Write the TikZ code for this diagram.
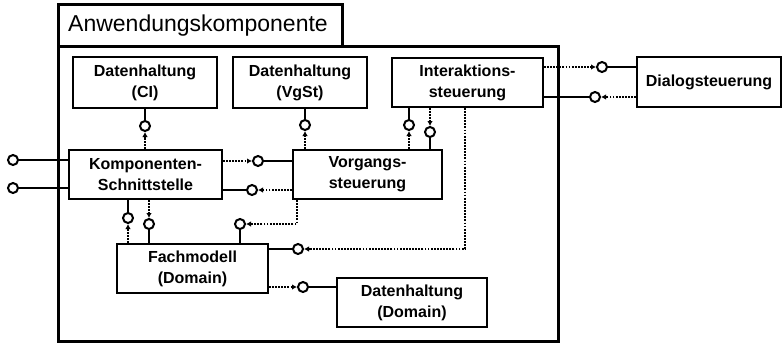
\documentclass[tikz,border=0pt]{standalone}
\usepackage{fontspec}
\setmainfont{Liberation Sans}
\usetikzlibrary{arrows.meta}

\tikzset{
  comp/.style={draw, line width=1.7pt, fill=white, align=center, inner sep=0pt,
    font=\bfseries\fontsize{16}{21}\selectfont},
  lolli/.style={circle, draw, line width=2pt, fill=white, inner sep=0pt, minimum size=10pt},
  prov/.style={line width=1.5pt},
  dep/.style={line width=1.8pt, dash pattern=on 1.8pt off 1.3pt,
    -{Latex[length=5pt,width=5.5pt]}},
}

\begin{document}
\begin{tikzpicture}[x=1pt, y=-1pt]
\useasboundingbox (0,0) rectangle (783,343);

% component frame with its title tab
\draw[line width=3pt] (58,4) rectangle (342,46);
\node[anchor=west, inner sep=0pt, font=\fontsize{23}{27}\selectfont] (title) at (68,26) {Anwendungskomponente};
\draw[line width=3pt] (58,46) rectangle (558,341);

% components
\node[comp, minimum width=144pt, minimum height=51pt] (dhci)  at (145,82.5) {Datenhaltung\\(CI)};
\node[comp, minimum width=134pt, minimum height=51pt] (dhvg)  at (300,82.5) {Datenhaltung\\(VgSt)};
\node[comp, minimum width=151pt, minimum height=49pt] (inter) at (467.5,82.5) {Interaktions-\\steuerung};
\node[comp, minimum width=144pt, minimum height=50pt] (dialog) at (709,82) {Dialogsteuerung};
\node[comp, minimum width=153pt, minimum height=49pt] (komp)  at (145.5,174.5) {Komponenten-\\Schnittstelle};
\node[comp, minimum width=149pt, minimum height=49pt] (vorg)  at (367.5,174.5) {Vorgangs-\\steuerung};
\node[comp, minimum width=151pt, minimum height=49pt] (fach)  at (192.5,268.5) {Fachmodell\\(Domain)};
\node[comp, minimum width=150pt, minimum height=49pt] (dhdom) at (412,302.5) {Datenhaltung\\(Domain)};

% interfaces (lollipops)
\node[lolli] (ext1) at (13,160) {};
\node[lolli] (ext2) at (13,188) {};
\node[lolli] (ici)  at (145,126) {};
\node[lolli] (ivg)  at (305,125) {};
\node[lolli] (ivo1) at (258,161) {};
\node[lolli] (iko1) at (252,190) {};
\node[lolli] (iin)  at (409,125) {};
\node[lolli] (ivo2) at (430,132) {};
\node[lolli] (ifa1) at (298,249) {};
\node[lolli] (ifa2) at (240,224) {};
\node[lolli] (iko2) at (128,218) {};
\node[lolli] (ifa3) at (149,224) {};
\node[lolli] (idom) at (303,287) {};
\node[lolli] (idia) at (602,67) {};
\node[lolli] (iin2) at (595,97) {};

% external interfaces of the component
\draw[prov] (ext1.east) -- (ext1 -| komp.west);
\draw[prov] (ext2.east) -- (ext2 -| komp.west);

% Datenhaltung (CI) used by Komponenten-Schnittstelle
\draw[prov] (ici |- dhci.south) -- (ici.north);
\draw[dep] (ici |- komp.north) -- (ici.south);

% Datenhaltung (VgSt) used by Vorgangssteuerung
\draw[prov] (ivg |- dhvg.south) -- (ivg.north);
\draw[dep] (ivg |- vorg.north) -- (ivg.south);

% Komponenten-Schnittstelle <-> Vorgangssteuerung
\draw[prov] (ivo1.east) -- (ivo1 -| vorg.west);
\draw[dep] (ivo1 -| komp.east) -- (ivo1.west);
\draw[prov] (iko1 -| komp.east) -- (iko1.west);
\draw[dep] (iko1 -| vorg.west) -- (iko1.east);

% Interaktionssteuerung <-> Vorgangssteuerung
\draw[prov] (iin |- inter.south) -- (iin.north);
\draw[dep] (iin |- vorg.north) -- (iin.south);
\draw[prov] (ivo2.south) -- (ivo2 |- vorg.north);
\draw[dep] (ivo2 |- inter.south) -- (ivo2.north);

% Fachmodell used by Interaktionssteuerung
\coordinate (bend1) at (465,249);
\draw[prov] (ifa1 -| fach.east) -- (ifa1.west);
\draw[dep] (bend1 |- inter.south) -- (bend1) -- (ifa1.east);

% Fachmodell used by Vorgangssteuerung
\coordinate (bend2) at (297,224);
\draw[prov] (ifa2.south) -- (ifa2 |- fach.north);
\draw[dep] (bend2 |- vorg.south) -- (bend2) -- (ifa2.east);

% Komponenten-Schnittstelle <-> Fachmodell
\draw[prov] (iko2 |- komp.south) -- (iko2.north);
\draw[dep] (iko2 |- fach.north) -- (iko2.south);
\draw[prov] (ifa3.south) -- (ifa3 |- fach.north);
\draw[dep] (ifa3 |- komp.south) -- (ifa3.north);

% Datenhaltung (Domain) used by Fachmodell
\draw[prov] (idom.east) -- (idom -| dhdom.west);
\draw[dep] (idom -| fach.east) -- (idom.west);

% Interaktionssteuerung <-> Dialogsteuerung
\draw[prov] (idia.east) -- (idia -| dialog.west);
\draw[dep] (idia -| inter.east) -- (idia.west);
\draw[prov] (iin2 -| inter.east) -- (iin2.west);
\draw[dep] (iin2 -| dialog.west) -- (iin2.east);
\end{tikzpicture}
\end{document}
